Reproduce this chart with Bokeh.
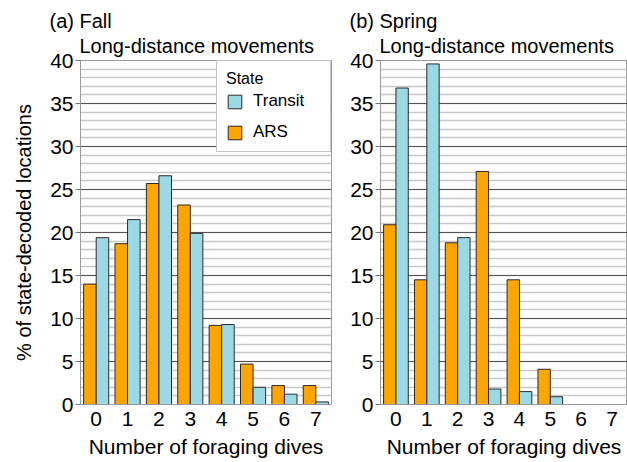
from bokeh.plotting import figure
from bokeh.models import (ColumnDataSource, Legend, LegendItem, Title, Range1d,
                          SingleIntervalTicker, FixedTicker)
from bokeh.transform import dodge
from bokeh.layouts import row
from bokeh.embed import file_html
from bokeh.resources import INLINE

dives = [0, 1, 2, 3, 4, 5, 6, 7]
fall_ars = [14.0, 18.7, 25.7, 23.2, 9.2, 4.7, 2.2, 2.2]
fall_transit = [19.4, 21.5, 26.6, 19.9, 9.3, 2.0, 1.2, 0.3]
spring_ars = [20.9, 14.5, 18.8, 27.1, 14.5, 4.1, 0.0, 0.0]
spring_transit = [36.8, 39.6, 19.4, 1.8, 1.5, 0.9, 0.0, 0.0]

FONT = "Liberation Sans"
BLUE = "#9BD9E5"
ORANGE = "#FFA500"
TXT = "#000000"
INDENT = "\u2002\u2002\u2002"


def make_panel(tag, ars, transit, width, left_border, right_border, ylabel, legend):
    src = ColumnDataSource(dict(x=dives, ars=ars, transit=transit))
    p = figure(width=width, height=462, output_backend="svg", toolbar_location=None,
               title=None, min_border_left=left_border, min_border_right=right_border,
               min_border_top=60, min_border_bottom=58,
               x_range=Range1d(-0.5, 7.5), y_range=Range1d(0, 40))
    r_ars = p.vbar(x=dodge("x", -0.2, range=p.x_range), top="ars", width=0.4, source=src,
                   fill_color=ORANGE, line_color="#2a2a2a", line_width=1)
    r_tr = p.vbar(x=dodge("x", 0.2, range=p.x_range), top="transit", width=0.4, source=src,
                  fill_color=BLUE, line_color="#2a2a2a", line_width=1)

    p.add_layout(Title(text=tag + "\n" + INDENT + "Long-distance movements",
                       text_font=FONT, text_font_size="20px",
                       text_font_style="normal", text_color=TXT, align="left",
                       text_line_height=1.15, standoff=6, offset=-31), "above")
    p.add_layout(Title(text="Number of foraging dives", text_font=FONT, text_font_size="21px",
                       text_font_style="normal", text_color=TXT, align="center",
                       text_line_height=1.0, standoff=9, offset=4), "below")

    p.yaxis.ticker = SingleIntervalTicker(interval=5, num_minor_ticks=5)
    p.xaxis.ticker = FixedTicker(ticks=dives)
    for ax in (p.xaxis[0], p.yaxis[0]):
        ax.major_label_text_font = FONT
        ax.major_label_text_font_size = "21px"
        ax.major_label_text_color = TXT
        ax.major_label_text_line_height = 1.0
        ax.axis_line_color = "#999999"
        ax.major_tick_line_color = "#777777"
        ax.minor_tick_line_color = None
        ax.major_tick_in = 0
        ax.axis_label_text_font = FONT
        ax.axis_label_text_font_size = "20px"
        ax.axis_label_text_font_style = "normal"
        ax.axis_label_text_color = TXT
    p.xaxis.major_tick_out = 0
    p.xaxis.major_label_standoff = 7
    p.yaxis.major_tick_out = 5
    p.yaxis.major_label_standoff = 2
    if ylabel:
        p.yaxis.axis_label = ylabel
        p.yaxis.axis_label_standoff = 12

    p.xgrid.grid_line_color = None
    p.ygrid.grid_line_color = "#555555"
    p.ygrid.grid_line_width = 1.2
    p.ygrid.minor_grid_line_color = "#c8c8c8"
    p.ygrid.minor_grid_line_width = 1.5
    p.outline_line_color = "#999999"
    p.background_fill_color = "white"
    p.border_fill_color = "white"

    if legend:
        lg = Legend(items=[LegendItem(label="Transit", renderers=[r_tr]),
                           LegendItem(label="ARS", renderers=[r_ars])],
                    location="top_right", title="State")
        lg.margin = 0
        lg.padding = 9
        lg.border_line_color = "#888888"
        lg.border_line_width = 1.5
        lg.background_fill_color = "white"
        lg.background_fill_alpha = 1.0
        lg.title_text_font = FONT
        lg.title_text_font_size = "16px"
        lg.title_text_font_style = "normal"
        lg.title_standoff = 3
        lg.label_text_font = FONT
        lg.label_text_font_size = "17px"
        lg.label_text_color = TXT
        lg.title_text_color = TXT
        lg.glyph_width = 17
        lg.glyph_height = 17
        lg.label_standoff = 10
        lg.label_width = 68
        lg.label_height = 20
        lg.spacing = 11
        p.add_layout(lg, "center")
    return p


left = make_panel("(a) Fall", fall_ars, fall_transit, 335, 80, 4,
                  "% of state-decoded locations", True)
right = make_panel("(b) Spring", spring_ars, spring_transit, 292, 45, 0, None, False)

layout = row(left, right, spacing=0)
open("out.html", "w").write(file_html(layout, INLINE))
